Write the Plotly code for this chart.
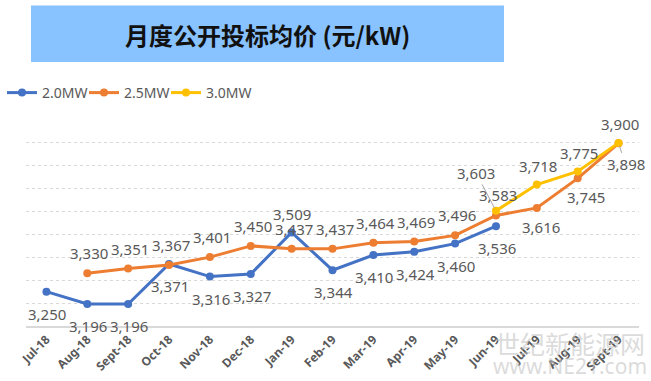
import plotly.graph_objects as go

categories = ["Jul-18", "Aug-18", "Sept-18", "Oct-18", "Nov-18", "Dec-18", "Jan-19",
              "Feb-19", "Mar-19", "Apr-19", "May-19", "Jun-19", "Jul-19", "Aug-19", "Sept-19"]
mw20 = [3250, 3196, 3196, 3371, 3316, 3327, 3509, 3344, 3410, 3424, 3460, 3536, None, None, None]
mw25 = [None, 3330, 3351, 3367, 3401, 3450, 3437, 3437, 3464, 3469, 3496, 3583, 3616, 3745, 3898]
mw30 = [None, None, None, None, None, None, None, None, None, None, None, 3603, 3718, 3775, 3900]

series_names = ["2.0MW", "2.5MW", "3.0MW"]
colors = ["#4472C4", "#ED7D31", "#FFC000"]
title_text = "月度公开投标均价 (元/kW)"

W, H = 651, 381
L, R, T, B = 26, 12, 120, 55
pw = W - L - R
ph = H - T - B


def px_x(p):
    return (p - L) / pw


def px_y(p):
    return (H - B - p) / ph


legend_ids = ["legend", "legend2", "legend3"]
legend_px = [2, 84, 166]

fig = go.Figure()
for name, vals, col, lid in zip(series_names, [mw20, mw25, mw30], colors, legend_ids):
    fig.add_trace(go.Scatter(
        x=categories, y=vals, name=name, mode="lines+markers",
        line=dict(color=col, width=3), marker=dict(color=col, size=8),
        connectgaps=False, legend=lid,
    ))

# label placement: (dx, dy) offsets in px; positive dy = up
place20 = {i: (1, -22) for i in range(len(categories))}
place20[6] = (0, 18)
place25 = {i: (2, 20) for i in range(len(categories))}
place25[12] = (4, -19)
place25[13] = (8, -19)
place30 = {i: (1, 19) for i in range(len(categories))}

label_font = dict(family="Noto Sans, DejaVu Sans", size=15, color="#595959")
annotations = []


def fmt(v):
    return f"{v:,}"


for vals, place in [(mw20, place20), (mw25, place25), (mw30, place30)]:
    for i, v in enumerate(vals):
        if v is None:
            continue
        if vals is mw25 and i == 14:
            annotations.append(dict(x=categories[i], y=v, text=fmt(v), showarrow=True,
                                    arrowhead=0, arrowwidth=1, arrowcolor="#A6A6A6",
                                    ax=7, ay=21, standoff=3, font=label_font))
            continue
        if vals is mw30 and i == 11:
            annotations.append(dict(x=categories[i], y=v, text=fmt(v), showarrow=True,
                                    arrowhead=0, arrowwidth=1, arrowcolor="#A6A6A6",
                                    ax=-20, ay=-38, standoff=3, font=label_font))
            continue
        dx, dy = place[i]
        annotations.append(dict(x=categories[i], y=v, text=fmt(v), showarrow=False,
                                xshift=dx, yshift=dy, font=label_font))

# title
annotations.append(dict(xref="paper", yref="paper", x=px_x(267.5), y=px_y(35),
                        xanchor="center", yanchor="middle",
                        text="<b>" + title_text + "</b>", showarrow=False,
                        font=dict(family="Noto Sans CJK SC", size=24, color="#111111")))
# watermark
annotations.append(dict(xref="paper", yref="paper", x=px_x(570), y=px_y(343),
                        xanchor="center", yanchor="middle",
                        text="世纪新能源网", showarrow=False,
                        font=dict(family="Noto Sans CJK SC", size=25, color="rgba(195,195,195,0.6)")))
annotations.append(dict(xref="paper", yref="paper", x=px_x(570), y=px_y(366),
                        xanchor="center", yanchor="middle",
                        text="www.NE21.com", showarrow=False,
                        font=dict(family="Noto Sans", size=21, color="rgba(195,195,195,0.6)")))

legend_common = dict(orientation="h", xanchor="left", yanchor="middle", y=px_y(93),
                     font=dict(family="Noto Sans", size=14, color="#595959"),
                     itemwidth=30, bgcolor="rgba(0,0,0,0)")

fig.update_layout(
    width=W, height=H,
    margin=dict(l=L, r=R, t=T, b=B, autoexpand=False),
    paper_bgcolor="white", plot_bgcolor="white",
    showlegend=True,
    legend=dict(x=px_x(legend_px[0]), **legend_common),
    legend2=dict(x=px_x(legend_px[1]), **legend_common),
    legend3=dict(x=px_x(legend_px[2]), **legend_common),
    shapes=[dict(type="rect", xref="paper", yref="paper",
                 x0=px_x(31), x1=px_x(504), y0=px_y(62), y1=px_y(5.5),
                 fillcolor="#88C2FF", line=dict(width=0), layer="below")],
    annotations=annotations,
    xaxis=dict(type="category", range=[-0.5, len(categories) - 0.5],
               showgrid=False, showline=True, linecolor="#D9D9D9", linewidth=1.5,
               ticks="", tickangle=-45,
               tickfont=dict(family="Noto Sans", size=12, color="#595959", weight="bold")),
    yaxis=dict(range=[3100, 4000], dtick=100, showticklabels=False, zeroline=False,
               showgrid=True, gridcolor="#D9D9D9", griddash="dot", gridwidth=1),
)

fig.write_html("out.html", post_script="document.body.style.margin='0';",
               config={"displayModeBar": False})
